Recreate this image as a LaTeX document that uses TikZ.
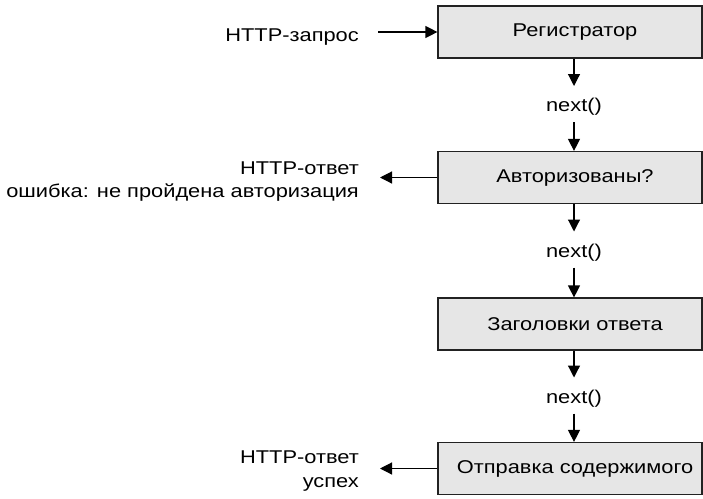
\documentclass[tikz,border=0pt]{standalone}
\usepackage{fontspec}
\setmainfont{Liberation Sans}[FakeStretch=1.18]
\usetikzlibrary{arrows.meta}
\definecolor{boxgray}{HTML}{E6E6E6}
\definecolor{edgegray}{HTML}{222222}
\tikzset{
  stepbox/.style={draw=edgegray, fill=boxgray, line width=1.2pt, rectangle,
    minimum width=264pt, minimum height=52pt, inner sep=0pt,
    execute at begin node={\hspace*{10pt}}},
  lbl/.style={inner sep=0pt, anchor=base east},
  nxt/.style={inner sep=0pt},
  arr/.style={line width=1.2pt, draw=black, -{Triangle[length=12pt,width=12pt]}}
}
\begin{document}
\begin{tikzpicture}[x=1pt,y=-1pt, font=\fontsize{18.5}{23}\selectfont]
\useasboundingbox (0,0) rectangle (703,498);
% boxes
\node[stepbox] (b1) at (570,32) {Регистратор};
\node[stepbox] (b2) at (570,177.5) {Авторизованы?};
\node[stepbox] (b3) at (570,324) {Заголовки ответа};
\node[stepbox] (b4) at (570,468.5) {Отправка содержимого};
% next() labels
\node[nxt] (n1) at (574,107) {next()};
\node[nxt] (n2) at (574,252.5) {next()};
\node[nxt] (n3) at (574,398.5) {next()};
% side labels
\node[lbl] (req) at (359,41.5) {HTTP-запрос};
\node[lbl] (r1) at (359,174) {HTTP-ответ};
\node[lbl] (e1) at (359,197) {ошибка: не пройдена авторизация};
\node[lbl] (r2) at (359,463) {HTTP-ответ};
\node[lbl] (s2) at (359,487.5) {успех};
% incoming request
\draw[arr] ([xshift=19pt]req.east |- b1.west) -- (b1.west);
% responses
\draw[arr] (b2.west) -- ([xshift=21pt]r1.east |- b2.west);
\draw[arr] (b4.west) -- ([xshift=21pt]r2.east |- b4.west);
% vertical chain
\draw[arr] ([xshift=4pt]b1.south) -- ([yshift=21pt]n1.center);
\draw[arr] ([yshift=-15pt]n1.center) -- (n1.center |- b2.north);
\draw[arr] ([xshift=4pt]b2.south) -- ([yshift=21pt]n2.center);
\draw[arr] ([yshift=-15pt]n2.center) -- (n2.center |- b3.north);
\draw[arr] ([xshift=4pt]b3.south) -- ([yshift=21pt]n3.center);
\draw[arr] ([yshift=-15pt]n3.center) -- (n3.center |- b4.north);
\end{tikzpicture}
\end{document}
